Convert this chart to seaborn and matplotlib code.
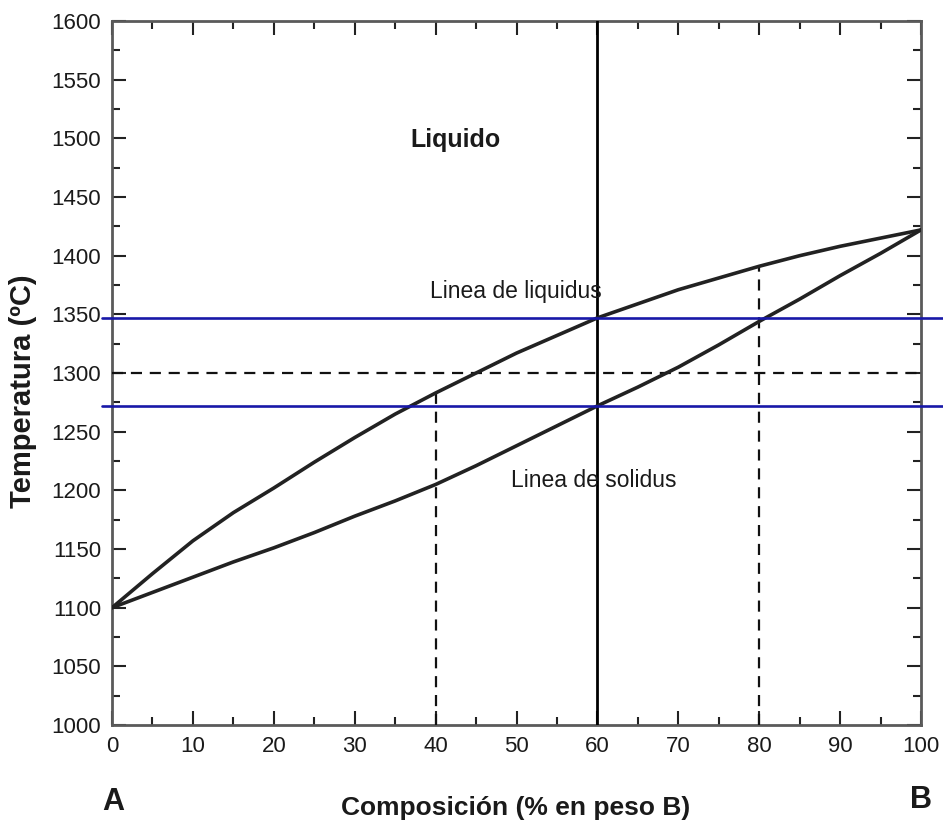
import matplotlib
matplotlib.use("Agg")
import matplotlib.pyplot as plt
from matplotlib.ticker import MultipleLocator
import numpy as np
import pandas as pd
import seaborn as sns

# Binary isomorphous phase diagram A-B
composition = [0, 5, 10, 15, 20, 25, 30, 35, 40, 45, 50,
               55, 60, 65, 70, 75, 80, 85, 90, 95, 100]
liquidus = [1100, 1129, 1157, 1181, 1202, 1224, 1245, 1265, 1283, 1300, 1317,
            1332, 1347, 1359, 1371, 1381, 1391, 1400, 1408, 1415, 1422]
solidus = [1100, 1113, 1126, 1139, 1151, 1164, 1178, 1191, 1205, 1221, 1238,
           1255, 1272, 1288, 1305, 1324, 1344, 1363, 1383, 1402, 1422]

# Reference constructions
overall_comp = 60          # vertical solid line
tie_temp = 1300            # dashed isotherm
dashed_comps = [40, 80]    # dashed verticals up to liquidus
upper_temp = liquidus[composition.index(overall_comp)]
lower_temp = solidus[composition.index(overall_comp)]

x_ticks = list(range(0, 101, 10))
y_ticks = list(range(1000, 1601, 50))

sns.set_theme(style="ticks")
plt.rcParams["font.family"] = ["Liberation Sans", "DejaVu Sans"]

df = pd.DataFrame({
    "comp": composition * 2,
    "temp": liquidus + solidus,
    "curve": ["liquidus"] * len(composition) + ["solidus"] * len(composition),
})

fig = plt.figure(figsize=(9.43, 8.25), dpi=100)
ax = fig.add_axes([0.1188, 0.1212, 0.8579, 0.8533])

sns.lineplot(data=df, x="comp", y="temp", units="curve", estimator=None,
             color="#222222", linewidth=2.6, ax=ax, legend=False, zorder=4)
for ln in ax.lines:
    ln.set_solid_joinstyle("round")

ink = "#111111"
ax.axvline(overall_comp, color="black", linewidth=2.0, zorder=3)
ax.plot([0, 100], [tie_temp, tie_temp], color=ink, linewidth=1.6,
        linestyle=(0, (5, 3.5)), zorder=3)
for c in dashed_comps:
    top = float(np.interp(c, composition, liquidus))
    ax.plot([c, c], [1000, top], color=ink, linewidth=1.6,
            linestyle=(0, (5, 3.5)), zorder=3)

blue = "#1818a8"
ax.plot([-1.2, 102.9], [upper_temp, upper_temp], color=blue, linewidth=1.9,
        clip_on=False, zorder=5)
ax.plot([-1.2, 103.8], [lower_temp, lower_temp], color=blue, linewidth=1.9,
        clip_on=False, zorder=5)

ax.set_xlim(0, 100)
ax.set_ylim(1000, 1600)
ax.set_xticks(x_ticks)
ax.set_yticks(y_ticks)
ax.xaxis.set_minor_locator(MultipleLocator(5))
ax.yaxis.set_minor_locator(MultipleLocator(25))
ax.tick_params(which="both", direction="in", top=True, right=True,
               color="#222222", width=1.5)
ax.tick_params(which="major", length=10, pad=8, labelsize=16, labelcolor="#1a1a1a")
ax.tick_params(which="minor", length=6)
for s in ax.spines.values():
    s.set_color("#5a5a5a")
    s.set_linewidth(2.0)

ax.set_xlabel("")
ax.set_ylabel("")

ax.text(42.5, 1493, "Liquido", ha="center", va="baseline", fontsize=18,
        fontweight="bold", color="#1a1a1a")
ax.text(49.9, 1364, "Linea de liquidus", ha="center", va="baseline",
        fontsize=16.5, color="#1a1a1a")
ax.text(59.5, 1203, "Linea de solidus", ha="center", va="baseline",
        fontsize=16.5, color="#1a1a1a")

fig.text(0.547, 1 - 815 / 825, "Composición (% en peso B)", ha="center",
         va="baseline", fontsize=19, fontweight="bold", color="#1a1a1a")
fig.text(113 / 943, 1 - 810 / 825, "A", ha="center", va="baseline",
         fontsize=22, fontweight="bold", color="#1a1a1a")
fig.text(921 / 943, 1 - 808 / 825, "B", ha="center", va="baseline",
         fontsize=22, fontweight="bold", color="#1a1a1a")
fig.text(23 / 943, 1 - 391 / 825, "Temperatura (ºC)", ha="center",
         va="center", rotation=90, fontsize=21, fontweight="bold",
         color="#1a1a1a")

fig.savefig("out.png", dpi=100, facecolor="white")
